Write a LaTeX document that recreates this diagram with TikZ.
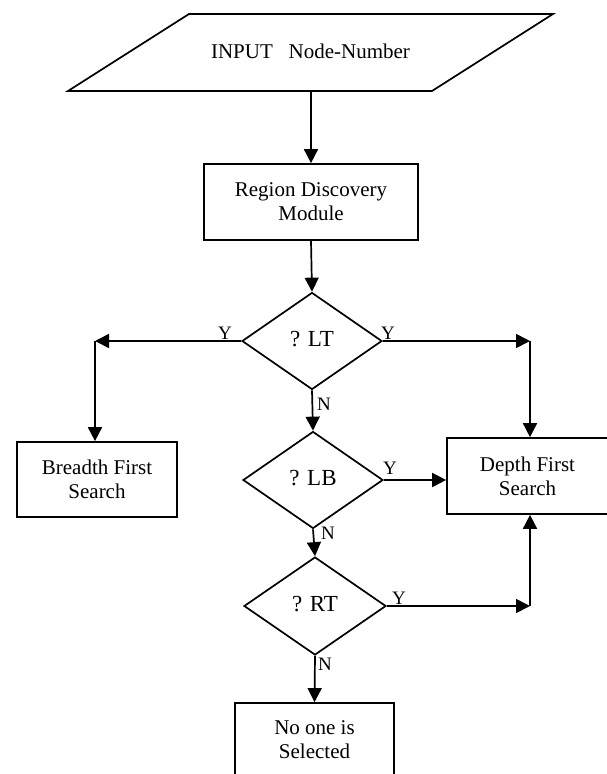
\documentclass[tikz,border=0pt]{standalone}
\usepackage{fontspec}
\setmainfont{Liberation Serif}
\usetikzlibrary{shapes.geometric,arrows.meta}
\begin{document}
\begin{tikzpicture}[x=1pt,y=-1pt,
  every node/.style={font=\fontsize{21}{24}\selectfont},
  box/.style={draw,line width=1.7pt,rectangle,inner sep=0pt,align=center},
  diam/.style={draw,line width=1.7pt,diamond,inner sep=0pt,minimum width=140pt,minimum height=97pt,font=\fontsize{23}{26}\selectfont},
  arr/.style={line width=1.7pt,-{Triangle[length=14pt,width=14pt]}},
  lbl/.style={font=\fontsize{19}{21}\selectfont,inner sep=0pt}]
\useasboundingbox (0,0) rectangle (606,774);
% input parallelogram
\draw[line width=1.7pt] (68,91) -- (189,14) -- (553,14) -- (432,91) -- cycle;
\node (input) at (310.5,51) {INPUT\ \ \ Node-Number};
\coordinate (inbot) at (311,91);
% boxes
\node[box,minimum width=214pt,minimum height=76pt] (rdm) at (311,202) {Region Discovery\\Module};
\node[box,minimum width=160pt,minimum height=75pt] (bfs) at (97,479.5) {Breadth First\\Search};
\node[box,minimum width=161pt,minimum height=76pt] (dfs) at (527.5,476) {Depth First\\Search};
\node[box,minimum width=159pt,minimum height=73pt] (none) at (314.5,739.5) {No one is\\Selected};
% diamonds
\node[diam] (lt) at (312,341) {\raisebox{4.5pt}{? LT}};
\node[diam] (lb) at (313,480) {\raisebox{4.5pt}{? LB}};
\node[diam,minimum width=142pt,minimum height=98pt] (rt) at (315,606) {\raisebox{4.5pt}{? RT}};
% corner points
\coordinate (cl) at (95,341);
\coordinate (cr) at (530,341);
\coordinate (crt) at (530,606);
% connectors
\draw[arr] (inbot) -- (rdm.north);
\draw[arr] (rdm.south) -- (lt.north);
\draw[arr] (lt.west) -- (cl);
\draw[arr] (cl) -- (cl |- bfs.north);
\draw[arr] (lt.east) -- (cr);
\draw[arr] (cr) -- (cr |- dfs.north);
\draw[arr] (lt.south) -- (lb.north);
\draw[arr] (lb.east) -- (lb.east -| dfs.west);
\draw[arr] (lb.south) -- (rt.north);
\draw[arr] (rt.east) -- (crt);
\draw[arr] (crt) -- (crt |- dfs.south);
\draw[arr] (rt.south) -- (none.north);
% labels
\node[lbl] (y1) at (225,333) {Y};
\node[lbl] (y2) at (388,333) {Y};
\node[lbl] (n1) at (324,404.5) {N};
\node[lbl] (y3) at (390,468) {Y};
\node[lbl] (n2) at (328,533) {N};
\node[lbl] (y4) at (399,598) {Y};
\node[lbl] (n3) at (325,664) {N};
\end{tikzpicture}
\end{document}
